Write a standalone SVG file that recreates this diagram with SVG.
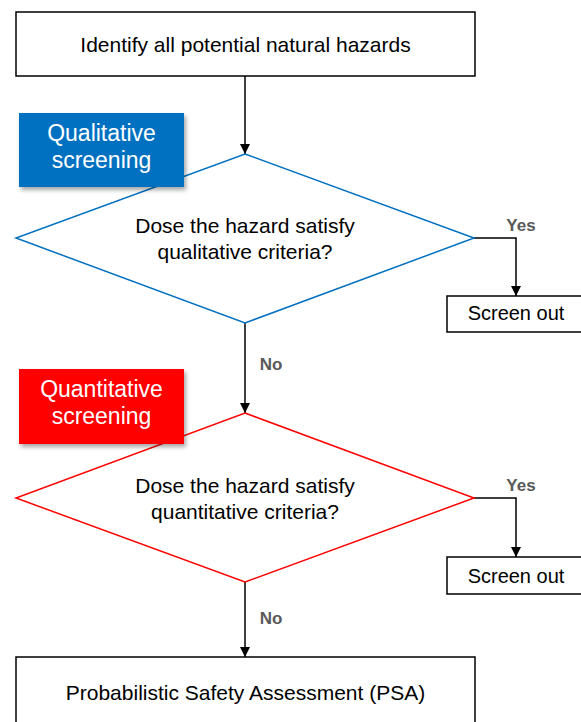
<svg xmlns="http://www.w3.org/2000/svg" width="581" height="722" viewBox="0 0 581 722">
<style>
.box{fill:#fff;stroke:#000;stroke-width:1.5}
.t{font-family:"Liberation Sans",Arial,sans-serif;fill:#000;text-anchor:middle}
.m{font-size:21px}
.s{font-size:20px}
.lbl{font-family:"Liberation Sans",Arial,sans-serif;font-size:17px;font-weight:bold;fill:#595959;text-anchor:middle}
.tag{font-family:"Liberation Sans",Arial,sans-serif;font-size:23px;fill:#fff;text-anchor:middle}
.c{fill:none;stroke:#000;stroke-width:1.5}
</style>
<defs>
<marker id="ah" markerWidth="10" markerHeight="10" refX="10" refY="5" orient="auto" markerUnits="userSpaceOnUse">
<path d="M0,0 L10,5 L0,10 Z" fill="#000"/>
</marker>
<filter id="sh" x="-10%" y="-10%" width="125%" height="130%">
<feDropShadow dx="2" dy="3" stdDeviation="2" flood-color="#000" flood-opacity="0.35"/>
</filter>
</defs>
<rect width="581" height="722" fill="#fff"/>
<g id="connectors">
<line class="c" x1="245" y1="76" x2="245" y2="154" marker-end="url(#ah)"/>
<polyline class="c" points="474,238 516,238 516,296" marker-end="url(#ah)"/>
<line class="c" x1="245" y1="323" x2="245" y2="413" marker-end="url(#ah)"/>
<polyline class="c" points="474,498 516,498 516,557" marker-end="url(#ah)"/>
<line class="c" x1="245" y1="582" x2="245" y2="657" marker-end="url(#ah)"/>
<text class="lbl" x="521" y="231">Yes</text>
<text class="lbl" x="271" y="370">No</text>
<text class="lbl" x="521" y="491">Yes</text>
<text class="lbl" x="271" y="624">No</text>
</g>
<g id="identify">
<rect class="box" x="16" y="12" width="459" height="64"/>
<text class="t m" x="245.5" y="52">Identify all potential natural hazards</text>
</g>
<g id="qual-diamond">
<polygon points="245,154 474,238 245,323 16,238" fill="#fff" stroke="#0070C0" stroke-width="1.5"/>
<text class="t m" x="245" y="233">Dose the hazard satisfy</text>
<text class="t m" x="245" y="259">qualitative criteria?</text>
</g>
<g id="qual-tag">
<rect x="19" y="113" width="165" height="74" fill="#0070C0" filter="url(#sh)"/>
<text class="tag" x="101.5" y="141">Qualitative</text>
<text class="tag" x="101.5" y="168">screening</text>
</g>
<g id="screen-out-1">
<rect class="box" x="447" y="296" width="145" height="36"/>
<text class="t s" x="516" y="320">Screen out</text>
</g>
<g id="quant-diamond">
<polygon points="245,413 474,498 245,582 16,498" fill="#fff" stroke="#FF0000" stroke-width="1.5"/>
<text class="t m" x="245" y="493">Dose the hazard satisfy</text>
<text class="t m" x="245" y="519">quantitative criteria?</text>
</g>
<g id="quant-tag">
<rect x="19" y="369" width="165" height="75" fill="#FF0000" filter="url(#sh)"/>
<text class="tag" x="101.5" y="397">Quantitative</text>
<text class="tag" x="101.5" y="424">screening</text>
</g>
<g id="screen-out-2">
<rect class="box" x="447" y="557" width="145" height="37"/>
<text class="t s" x="516" y="583">Screen out</text>
</g>
<g id="psa">
<rect class="box" x="16" y="657" width="459" height="80"/>
<text class="t m" x="245.5" y="700">Probabilistic Safety Assessment (PSA)</text>
</g>
</svg>
